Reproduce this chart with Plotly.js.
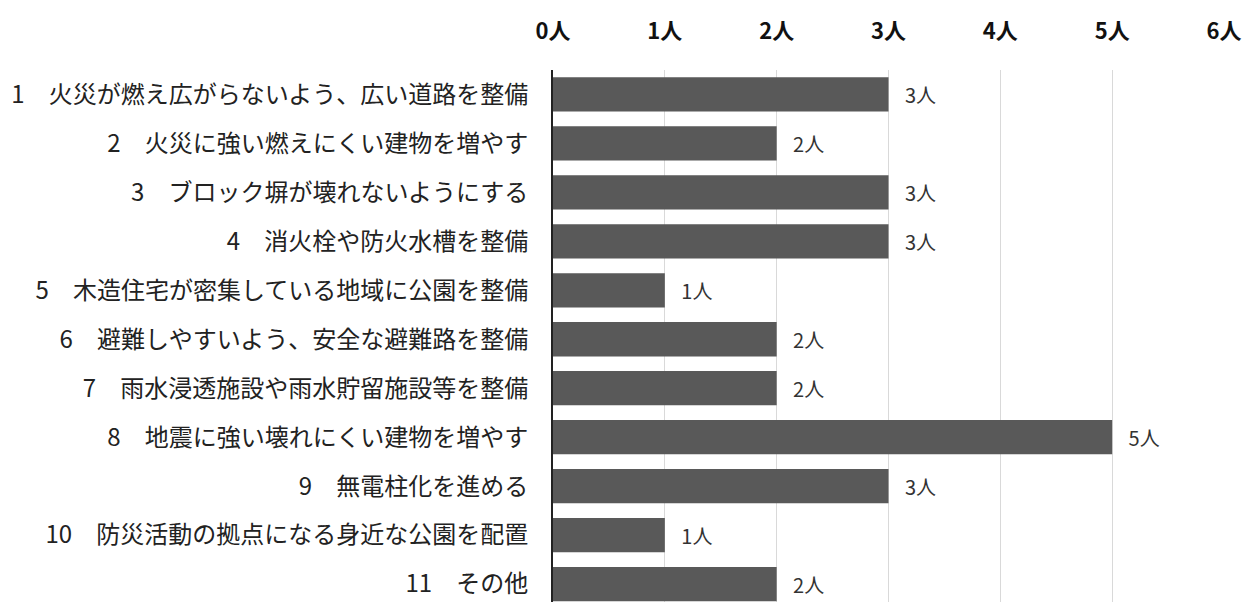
<!DOCTYPE html>
<html><head><meta charset="utf-8">
<script src="https://cdn.plot.ly/plotly-3.0.1.min.js"></script>
<style>html,body{margin:0;padding:0;background:#fff;}#chart{width:1251px;height:602px;}</style>
</head><body><div id="chart"></div>
<script>
const categories = [
  "1　火災が燃え広がらないよう、広い道路を整備",
  "2　火災に強い燃えにくい建物を増やす",
  "3　ブロック塀が壊れないようにする",
  "4　消火栓や防火水槽を整備",
  "5　木造住宅が密集している地域に公園を整備",
  "6　避難しやすいよう、安全な避難路を整備",
  "7　雨水浸透施設や雨水貯留施設等を整備",
  "8　地震に強い壊れにくい建物を増やす",
  "9　無電柱化を進める",
  "10　防災活動の拠点になる身近な公園を配置",
  "11　その他"
];
const counts = [3, 2, 3, 3, 1, 2, 2, 5, 3, 1, 2];
const tickValues = [0, 1, 2, 3, 4, 5, 6];
const tickLabels = ["0人", "1人", "2人", "3人", "4人", "5人", "6人"];

const trace = {
  type: 'bar',
  orientation: 'h',
  x: counts,
  y: categories,
  marker: {color: '#595959'},
  width: 0.7,
  text: counts.map(v => '\u00a0\u00a0\u00a0' + v + '人'),
  textposition: 'outside',
  textfont: {family: '"Noto Sans CJK JP", sans-serif', size: 20, color: '#333333'},
  cliponaxis: false,
  hoverinfo: 'none'
};

const layout = {
  width: 1251, height: 602,
  margin: {l: 553, r: 27, t: 70, b: 0},
  paper_bgcolor: '#fff', plot_bgcolor: '#fff',
  showlegend: false,
  bargap: 0.3,
  xaxis: {
    side: 'top',
    range: [0, 6],
    tickvals: tickValues,
    ticktext: tickLabels,
    showgrid: true, gridcolor: '#d9d9d9', gridwidth: 1,
    zeroline: false, showline: false, ticks: '',
    ticklabelstandoff: 26,
    tickfont: {family: '"Noto Sans CJK JP", sans-serif', size: 22, color: '#111', weight: 'bold'},
    fixedrange: true
  },
  yaxis: {
    type: 'category',
    categoryorder: 'array', categoryarray: categories,
    range: [10.367, -0.5],
    showline: true, linecolor: '#222', linewidth: 2,
    showgrid: false, zeroline: false, ticks: '',
    ticklabelstandoff: 18,
    tickfont: {family: '"Noto Sans CJK JP", sans-serif', size: 24, color: '#222'},
    fixedrange: true
  },
  font: {family: '"Noto Sans CJK JP", sans-serif'}
};

Plotly.newPlot('chart', [trace], layout, {displayModeBar: false, staticPlot: true});
</script>
</body></html>
